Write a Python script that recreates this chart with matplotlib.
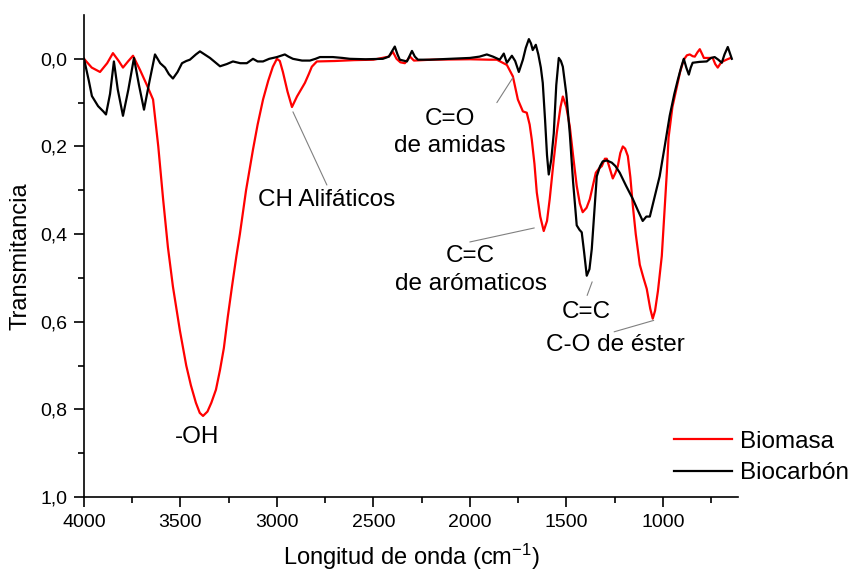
import matplotlib
matplotlib.use("Agg")
import matplotlib.pyplot as plt
from matplotlib.ticker import FixedLocator, FuncFormatter

plt.rcParams['font.family'] = ['Liberation Sans', 'DejaVu Sans']
plt.rcParams['mathtext.fontset'] = 'custom'
plt.rcParams['mathtext.rm'] = 'Liberation Sans'
plt.rcParams['mathtext.it'] = 'Liberation Sans'
plt.rcParams['mathtext.default'] = 'regular'

# Biomasa (red)
bio_wn = [4000, 3960, 3917, 3880, 3850, 3820, 3798, 3770, 3746, 3710, 3674, 3642, 3615, 3590,
          3565, 3539, 3503, 3470, 3446, 3420, 3400, 3383, 3360, 3340, 3316, 3295, 3275, 3255,
          3233, 3210, 3192, 3160, 3124, 3100, 3072, 3045, 3021, 3000, 2985, 2969, 2945, 2922,
          2896, 2875, 2855, 2835, 2819, 2793, 2700, 2600, 2500, 2420, 2399, 2380, 2360, 2337,
          2310, 2290, 2200, 2000, 1900, 1860, 1808, 1777, 1751, 1725, 1705, 1690, 1679, 1665,
          1653, 1635, 1617, 1600, 1586, 1565, 1549, 1530, 1518, 1500, 1482, 1465, 1446, 1430,
          1415, 1395, 1378, 1360, 1347, 1330, 1316, 1300, 1290, 1275, 1259, 1245, 1233, 1220,
          1207, 1195, 1181, 1168, 1155, 1140, 1119, 1100, 1083, 1065, 1052, 1040, 1025, 1005,
          990, 979, 970, 950, 927, 910, 891, 875, 860, 845, 834, 820, 808, 795, 787, 760, 741,
          728, 715, 700, 689, 670, 648]
bio_t = [0.0, 0.02, 0.03, 0.01, -0.013, 0.005, 0.02, 0.005, -0.007, 0.025, 0.06, 0.093, 0.2, 0.32,
         0.43, 0.52, 0.62, 0.70, 0.745, 0.785, 0.808, 0.815, 0.805, 0.785, 0.755, 0.71, 0.66, 0.59,
         0.52, 0.45, 0.40, 0.30, 0.207, 0.15, 0.093, 0.05, 0.018, 0.0, 0.005, 0.03, 0.075, 0.11,
         0.086, 0.07, 0.055, 0.035, 0.018, 0.006, 0.005, 0.003, 0.002, -0.005, -0.016, 0.0, 0.008, 0.01,
         -0.005, 0.004, 0.002, 0.001, 0.002, 0.002, 0.014, 0.04, 0.093, 0.12, 0.123, 0.15, 0.184, 0.24,
         0.305, 0.36, 0.393, 0.37, 0.32, 0.23, 0.168, 0.11, 0.086, 0.11, 0.154, 0.22, 0.29, 0.33,
         0.35, 0.34, 0.32, 0.285, 0.26, 0.25, 0.245, 0.228, 0.228, 0.25, 0.273, 0.26, 0.245, 0.215,
         0.2, 0.205, 0.222, 0.27, 0.336, 0.40, 0.47, 0.50, 0.525, 0.57, 0.593, 0.575, 0.53, 0.45,
         0.34, 0.26, 0.18, 0.11, 0.064, 0.03, 0.002, -0.008, -0.01, -0.006, -0.005, -0.015, -0.022, -0.01, -0.002, -0.002, -0.002,
         0.012, 0.02, 0.01, 0.006, 0.002, -0.002]

# Biocarbón (black)
car_wn = [4000, 3975, 3959, 3927, 3900, 3886, 3865, 3845, 3825, 3798, 3770, 3741, 3715, 3689,
          3660, 3632, 3605, 3580, 3560, 3539, 3515, 3492, 3470, 3451, 3420, 3399, 3375, 3347,
          3320, 3295, 3260, 3228, 3190, 3156, 3124, 3100, 3072, 3040, 3000, 2959, 2940, 2917,
          2870, 2829, 2800, 2777, 2710, 2660, 2622, 2540, 2451, 2420, 2400, 2389, 2375, 2363,
          2326, 2300, 2285, 2269, 2207, 2100, 2000, 1950, 1912, 1880, 1845, 1824, 1808, 1782,
          1765, 1746, 1735, 1725, 1710, 1694, 1683, 1674, 1658, 1645, 1632, 1622, 1610, 1600,
          1591, 1578, 1565, 1552, 1539, 1528, 1518, 1500, 1482, 1465, 1446, 1432, 1420, 1408,
          1394, 1380, 1368, 1355, 1342, 1325, 1311, 1290, 1264, 1245, 1223, 1190, 1155, 1130,
          1104, 1085, 1067, 1045, 1016, 990, 964, 940, 922, 905, 891, 878, 865, 855, 845, 810,
          772, 750, 731, 712, 694, 680, 663, 650, 642]
car_t = [0.0, 0.05, 0.085, 0.108, 0.12, 0.127, 0.08, 0.006, 0.07, 0.13, 0.07, -0.002, 0.06, 0.116,
         0.05, -0.01, 0.01, 0.02, 0.035, 0.045, 0.03, 0.01, 0.005, 0.002, -0.01, -0.017, -0.01, -0.002,
         0.008, 0.017, 0.012, 0.006, 0.01, 0.01, 0.0, 0.006, 0.006, 0.0, -0.004, -0.01, -0.005, 0.0,
         0.004, 0.004, 0.0, -0.004, -0.004, -0.002, 0.0, 0.001, 0.0, -0.005, -0.02, -0.028, -0.01, 0.002,
         0.006, -0.018, -0.005, 0.002, 0.002, 0.0, -0.002, -0.005, -0.01, -0.005, 0.002, -0.012, 0.009, -0.007,
         0.005, 0.03, 0.015, 0.002, -0.025, -0.045, -0.035, -0.02, -0.032, -0.01, 0.02, 0.055, 0.14, 0.22,
         0.264, 0.23, 0.17, 0.06, -0.002, 0.005, 0.018, 0.08, 0.17, 0.28, 0.38, 0.39, 0.396, 0.44,
         0.495, 0.48, 0.434, 0.35, 0.268, 0.245, 0.234, 0.232, 0.237, 0.245, 0.26, 0.29, 0.32, 0.345,
         0.37, 0.36, 0.36, 0.32, 0.268, 0.2, 0.13, 0.08, 0.048, 0.02, 0.0, 0.02, 0.036, 0.02, 0.009, 0.007,
         0.006, -0.002, -0.004, 0.002, 0.009, -0.01, -0.027, -0.01, 0.0]

series_labels = ["Biomasa", "Biocarbón"]
x_ticks = [4000, 3500, 3000, 2500, 2000, 1500, 1000]
y_ticks = [0.0, 0.2, 0.4, 0.6, 0.8, 1.0]

# annotations: (text, text position (wn, T), leader line start, leader line end)
notes = [
    ("-OH", (3414, 0.862), None, None),
    ("CH Alifáticos", (2741, 0.322), (2741, 0.288), (2917, 0.121)),
    ("C=O\nde amidas", (2105, 0.169), (1860, 0.10), (1777, 0.043)),
    ("C=C\nde arómaticos", (1995, 0.482), (2000, 0.418), (1666, 0.386)),
    ("C=C", (1398, 0.577), (1392, 0.54), (1366, 0.509)),
    ("C-O de éster", (1248, 0.653), (1252, 0.623), (1047, 0.597)),
]

fig = plt.figure(figsize=(8.53, 5.75), dpi=100)
ax = fig.add_axes([84/853, 1-497/575, (738-84)/853, (497-15)/575])

ax.plot(bio_wn, bio_t, color='#ff0000', lw=1.6, label=series_labels[0])
ax.plot(car_wn, car_t, color='black', lw=1.6, label=series_labels[1])

ax.set_xlim(4000, 610)
ax.set_ylim(1.0, -0.1)

for s in ['top', 'right']:
    ax.spines[s].set_visible(False)
for s in ['left', 'bottom']:
    ax.spines[s].set_linewidth(1.2)

ax.xaxis.set_major_locator(FixedLocator(x_ticks))
ax.xaxis.set_minor_locator(FixedLocator([3750, 3250, 2750, 2250, 1750, 1250, 750]))
ax.yaxis.set_major_locator(FixedLocator(y_ticks))
ax.yaxis.set_minor_locator(FixedLocator([0.1, 0.3, 0.5, 0.7, 0.9]))
ax.yaxis.set_major_formatter(FuncFormatter(lambda v, p: f"{v:.1f}".replace('.', ',')))
ax.tick_params(axis='both', which='major', direction='out', length=7, width=1.2, labelsize=14, pad=5)
ax.tick_params(axis='both', which='minor', direction='out', length=4, width=1.2)

ax.set_xlabel("Longitud de onda (cm$^{-1}$)", fontsize=17, labelpad=8)
ax.set_ylabel("Transmitancia", fontsize=17, labelpad=6)

for text, tpos, l0, l1 in notes:
    ax.text(tpos[0], tpos[1], text, fontsize=17.5, ha='center', va='center', linespacing=1.3,
            zorder=5,
            bbox=dict(facecolor='white', edgecolor='none', pad=1) if '\n' in text else None)
    if l0 is not None:
        ax.annotate('', xy=l1, xytext=l0, zorder=4,
                    arrowprops=dict(arrowstyle='-', color='#808080', lw=0.8, shrinkA=0, shrinkB=0))

leg = ax.legend(loc='center left', bbox_to_anchor=(0.902, 0.082), frameon=False, fontsize=17.5,
                handlelength=2.4, handletextpad=0.3, labelspacing=0.4, borderpad=0, borderaxespad=0)

fig.savefig("out.png", dpi=100)
